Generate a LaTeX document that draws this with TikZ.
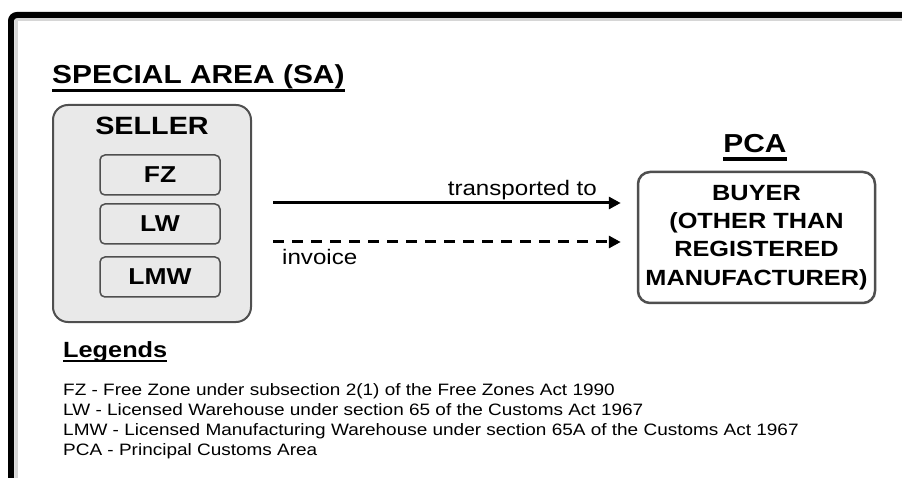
\documentclass[tikz,border=0pt]{standalone}
\usepackage{fontspec}
\setmainfont{Liberation Sans}[FakeStretch=1.15]
\usetikzlibrary{arrows.meta}
\definecolor{boxgray}{HTML}{E9E9E9}
\definecolor{edgegray}{HTML}{4F4F4F}
\definecolor{rimgray}{HTML}{D6D6D6}

\begin{document}
\begin{tikzpicture}[x=1pt, y=-1pt,
	heading/.style={font=\bfseries\fontsize{26}{30}\selectfont, inner sep=0pt},
	zonebox/.style={draw=edgegray, fill=boxgray, line width=1.5pt, rounded corners=5pt, minimum width=120pt, minimum height=40pt, font=\bfseries\fontsize{23}{26}\selectfont},
	flow/.style={line width=3pt, -{Triangle[length=12pt,width=12pt]}},
	note/.style={font=\fontsize{21}{24}\selectfont, inner sep=0pt}]
	\useasboundingbox (0,0) rectangle (902,478);
	\clip (0,0) rectangle (902,478);
	% frame round the page, only top and left edges show
	\draw[rimgray, line width=3pt] (16,490) -- (16,19.5) -- (910,19.5);
	\draw[line width=6pt, rounded corners=6pt] (11,490) -- (11,15) -- (910,15);

	% special area side
	\node[heading, anchor=base west] (sa) at (52,84) {SPECIAL AREA (SA)};
	\draw[line width=3.5pt] ([yshift=-6.5pt]sa.base west) -- ([yshift=-6.5pt]sa.base east);
	\node[draw=edgegray, fill=boxgray, line width=2pt, rounded corners=15pt, minimum width=198pt, minimum height=217pt] (seller) at (152,213.5) {};
	\node[font=\bfseries\fontsize{25}{28}\selectfont, inner sep=0pt, anchor=base] (sellertxt) at (152,135) {SELLER};
	\node[zonebox] (fz) at (160,175) {FZ};
	\node[zonebox] (lw) at (160,224) {LW};
	\node[zonebox] (lmw) at (160,277) {LMW};

	% principal customs area side
	\node[heading, anchor=base] (pca) at (755,153) {PCA};
	\draw[line width=3.5pt] ([yshift=-6pt]pca.base west) -- ([yshift=-6pt]pca.base east);
	\node[draw=edgegray, line width=2.5pt, rounded corners=12pt, minimum width=237pt, minimum height=131pt, align=center, inner sep=0pt, font=\bfseries\fontsize{22}{28.3}\selectfont] (buyer) at (756.5,237.5) {BUYER\\(OTHER THAN\\REGISTERED\\MANUFACTURER)};

	% goods and invoice
	\coordinate (goods) at (0,203);
	\coordinate (bill) at (0,242);
	\draw[flow] ([xshift=21pt]seller.east |- goods) -- ([xshift=-16pt]buyer.west |- goods);
	\draw[flow, dash pattern=on 11pt off 8pt] ([xshift=21pt]seller.east |- bill) -- ([xshift=-16pt]buyer.west |- bill);
	\node[note, anchor=base east] (shipped) at (597,196) {transported to};
	\node[note, anchor=base west] (inv) at (282,265) {invoice};

	% legends
	\node[font=\bfseries\fontsize{22}{26}\selectfont, inner sep=0pt, anchor=base west] (legends) at (63,357) {Legends};
	\draw[line width=2.5pt] ([yshift=-4pt]legends.base west) -- ([yshift=-4pt]legends.base east);
	\foreach \txt [count=\i] in {FZ - Free Zone under subsection 2(1) of the Free Zones Act 1990,
		LW - Licensed Warehouse under section 65 of the Customs Act 1967,
		LMW - Licensed Manufacturing Warehouse under section 65A of the Customs Act 1967,
		PCA - Principal Customs Area}
		\node[font=\fontsize{16.5}{20}\selectfont, inner sep=0pt, anchor=base west] (leg\i) at (63,375+20*\i) {\txt};
\end{tikzpicture}
\end{document}
